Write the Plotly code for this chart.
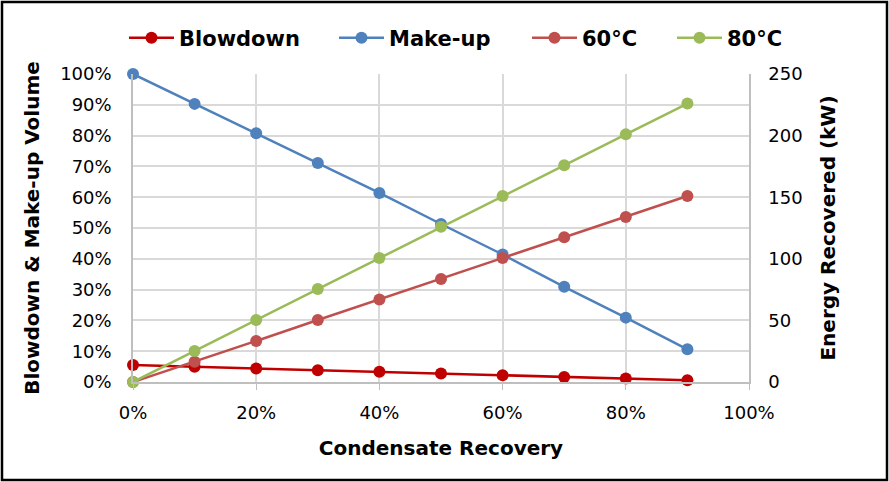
import plotly.graph_objects as go

recovery = [0, 0.1, 0.2, 0.3, 0.4, 0.5, 0.6, 0.7, 0.8, 0.9]
blowdown = [0.055, 0.0495, 0.044, 0.0385, 0.033, 0.0275, 0.022, 0.0165, 0.011, 0.0055]
makeup = [1.0, 0.903, 0.808, 0.711, 0.614, 0.513, 0.414, 0.309, 0.209, 0.106]
energy_60 = [0, 16.5, 33.3, 50.3, 67.0, 83.6, 100.6, 117.5, 134.0, 151.0]
energy_80 = [0, 25.2, 50.3, 75.5, 100.6, 126.0, 151.0, 176.0, 201.0, 226.0]

names = ["Blowdown", "Make-up", "60°C", "80°C"]
colors = ["#C00000", "#4F81BD", "#C0504D", "#9BBB59"]
legend_left_px = [127, 337, 530, 675]

FONT = "DejaVu Sans"
L, R, T, B = 133, 140, 74, 100
W, H = 889, 482
PW, PH = W - L - R, H - T - B

fig = go.Figure()
series = [(blowdown, "y"), (makeup, "y"), (energy_60, "y2"), (energy_80, "y2")]
legend_ids = ["legend", "legend2", "legend3", "legend4"]
for i, (vals, ax) in enumerate(series):
    fig.add_trace(go.Scatter(x=recovery, y=vals, name=names[i], mode="lines+markers", yaxis=ax,
                             legend=legend_ids[i], cliponaxis=False,
                             line=dict(color=colors[i], width=2.5),
                             marker=dict(size=12, color=colors[i])))

legend_common = dict(orientation="h", yanchor="middle", xanchor="left", itemwidth=45,
                     font=dict(family=FONT, size=21, color="black", weight="bold"),
                     bgcolor="rgba(0,0,0,0)", borderwidth=0)
legends = {}
for i, lid in enumerate(legend_ids):
    legends[lid] = dict(legend_common, x=(legend_left_px[i] - L - 3) / PW, y=(382 - 38) / PH)

fig.update_layout(
    width=W, height=H,
    margin=dict(l=L, r=R, t=T, b=B, autoexpand=False),
    paper_bgcolor="white", plot_bgcolor="white",
    font=dict(family=FONT, size=18, color="#000000"),
    showlegend=True,
    xaxis=dict(range=[0, 1], tickvals=[0, 0.2, 0.4, 0.6, 0.8, 1.0], tickformat=".0%",
               showgrid=True, gridcolor="#D9D9D9", gridwidth=1.5,
               showline=True, linecolor="#BFBFBF", linewidth=1.5,
               ticks="outside", tickcolor="#BFBFBF", ticklen=6, automargin=False,
               zeroline=False, ticklabelstandoff=8,
               title=dict(text="<b>Condensate Recovery</b>", font=dict(family=FONT, size=20), standoff=19)),
    yaxis=dict(range=[0, 1], dtick=0.1, tickformat=".0%",
               showgrid=True, gridcolor="#D9D9D9", gridwidth=1.5,
               showline=True, linecolor="#BFBFBF", linewidth=1.5, automargin=False,
               zeroline=False, ticklabelstandoff=16,
               title=dict(text="<b>Blowdown & Make-up Volume</b>", font=dict(family=FONT, size=20), standoff=15)),
    yaxis2=dict(range=[0, 250], dtick=50, overlaying="y", side="right",
                showgrid=False, showline=True, linecolor="#BFBFBF", linewidth=1.5,
                zeroline=False, automargin=False, ticklabelstandoff=14,
                title=dict(text="<b>Energy Recovered (kW)</b>", font=dict(family=FONT, size=20), standoff=19)),
    shapes=[dict(type="rect", xref="paper", yref="paper",
                 x0=(2 - L) / PW, x1=(887 - L) / PW,
                 y0=(382 - 480) / PH, y1=(382 - 2) / PH,
                 line=dict(color="black", width=2.5), layer="above")],
    **legends,
)
fig.write_html("out.html", config={"displayModeBar": False},
               post_script="document.body.style.margin='0px';document.body.style.overflow='hidden';")
